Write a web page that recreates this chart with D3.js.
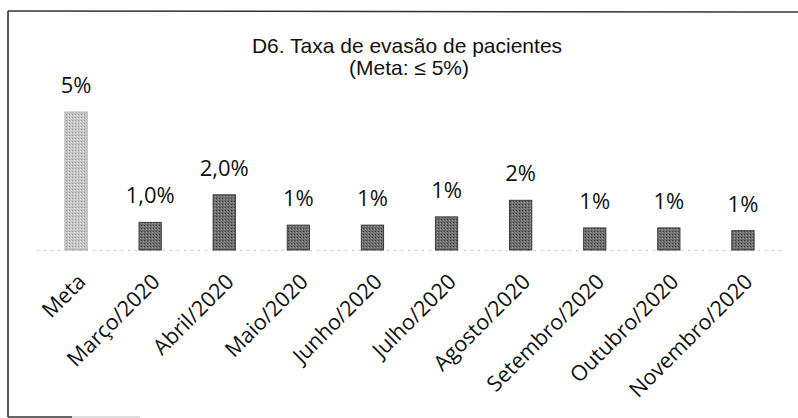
<!DOCTYPE html>
<html>
<head>
<meta charset="utf-8">
<script src="https://cdn.jsdelivr.net/npm/d3@7"></script>
<style>
  html, body { margin: 0; padding: 0; background: #fff; }
  svg { display: block; }
</style>
</head>
<body>
<svg id="chart" width="798" height="418"></svg>
<script>
const categories = ["Meta", "Março/2020", "Abril/2020", "Maio/2020", "Junho/2020", "Julho/2020", "Agosto/2020", "Setembro/2020", "Outubro/2020", "Novembro/2020"];
const values = [5, 1.0, 2.0, 0.9, 0.9, 1.2, 1.8, 0.8, 0.8, 0.7];
const valueLabels = ["5%", "1,0%", "2,0%", "1%", "1%", "1%", "2%", "1%", "1%", "1%"];
const titleLines = ["D6. Taxa de evasão de pacientes", "(Meta: ≤ 5%)"];

const svg = d3.select("#chart");
const baseY = 250;

// frame (scan border)
svg.append("line").attr("x1", 8).attr("y1", 11).attr("x2", 798).attr("y2", 12)
  .attr("stroke", "#333").attr("stroke-width", 1.5);
svg.append("line").attr("x1", 8).attr("y1", 11).attr("x2", 8).attr("y2", 417)
  .attr("stroke", "#222").attr("stroke-width", 1.5);
svg.append("line").attr("x1", 8).attr("y1", 417).attr("x2", 72).attr("y2", 417)
  .attr("stroke", "#333").attr("stroke-width", 1.5);
svg.append("line").attr("x1", 72).attr("y1", 417).attr("x2", 140).attr("y2", 417)
  .attr("stroke", "#bbb").attr("stroke-width", 1);

const x = d3.scaleBand().domain(categories).range([39, 780]).paddingInner(0.7).paddingOuter(0.35);
const y = d3.scaleLinear().domain([0, 5]).range([baseY, 112]);

// title
const title = svg.append("text").attr("font-family", "'Liberation Sans', Arial, sans-serif")
  .attr("font-size", 21).attr("fill", "#111").attr("text-anchor", "middle");
title.append("tspan").attr("x", 407).attr("y", 53).text(titleLines[0]);
title.append("tspan").attr("x", 409).attr("y", 75).text(titleLines[1]);

// axis baseline (faint dotted)
svg.append("line").attr("x1", 37).attr("x2", 782).attr("y1", baseY + 0.5).attr("y2", baseY + 0.5)
  .attr("stroke", "#c8c8c8").attr("stroke-width", 1).attr("stroke-dasharray", "2,5");

// pattern for texture
const defs = svg.append("defs");
const pat1 = defs.append("pattern").attr("id", "p1").attr("width", 3).attr("height", 3).attr("patternUnits", "userSpaceOnUse");
pat1.append("rect").attr("width", 3).attr("height", 3).attr("fill", "#c6c6c6");
pat1.append("rect").attr("x", 0).attr("y", 0).attr("width", 1).attr("height", 1).attr("fill", "#9a9a9a");
pat1.append("rect").attr("x", 2).attr("y", 1).attr("width", 1).attr("height", 1).attr("fill", "#e6e6e6");
const pat2 = defs.append("pattern").attr("id", "p2").attr("width", 3).attr("height", 3).attr("patternUnits", "userSpaceOnUse");
pat2.append("rect").attr("width", 3).attr("height", 3).attr("fill", "#6f6f6f");
pat2.append("rect").attr("x", 0).attr("y", 0).attr("width", 1).attr("height", 1).attr("fill", "#3c3c3c");
pat2.append("rect").attr("x", 2).attr("y", 1).attr("width", 1).attr("height", 1).attr("fill", "#9a9a9a");

svg.append("g").selectAll("rect").data(categories).join("rect")
  .attr("x", d => x(d))
  .attr("y", (d, i) => y(values[i]))
  .attr("width", x.bandwidth())
  .attr("height", (d, i) => baseY - y(values[i]))
  .attr("fill", (d, i) => i === 0 ? "url(#p1)" : "url(#p2)")
  .attr("stroke", (d, i) => i === 0 ? "#b0b0b0" : "#3a3a3a")
  .attr("stroke-width", 1);

// value labels
svg.append("g").selectAll("text").data(categories).join("text")
  .attr("x", d => x(d) + x.bandwidth() / 2)
  .attr("y", (d, i) => y(values[i]) - 19)
  .attr("text-anchor", "middle")
  .attr("font-family", "'Open Sans', Lato, sans-serif")
  .attr("font-size", 22)
  .attr("fill", "#111")
  .text((d, i) => valueLabels[i]);

// category labels rotated
svg.append("g").selectAll("text").data(categories).join("text")
  .attr("transform", d => `translate(${x(d) + x.bandwidth() / 2 + 11},${baseY + 33}) rotate(-45)`)
  .attr("text-anchor", "end")
  .attr("font-family", "'Open Sans', Lato, sans-serif")
  .attr("font-size", 21.5)
  .attr("fill", "#111")
  .text(d => d);
</script>
</body>
</html>
